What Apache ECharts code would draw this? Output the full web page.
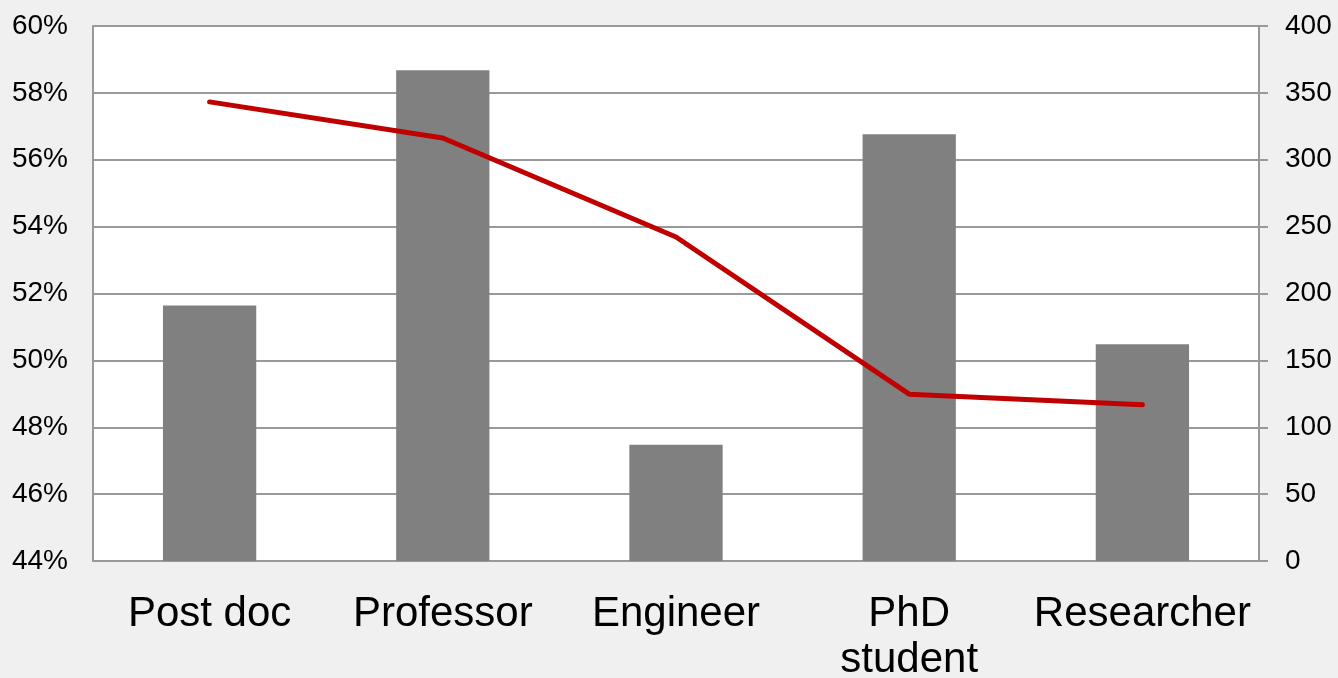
<!DOCTYPE html>
<html>
<head>
<meta charset="utf-8">
<script src="https://cdn.jsdelivr.net/npm/echarts@6/dist/echarts.min.js"></script>
<style>
html,body{margin:0;padding:0;background:#f0f0f0;overflow:hidden;}
#chart{width:1338px;height:678px;}
</style>
</head>
<body>
<div id="chart"></div>
<script>
const categories = ['Post doc', 'Professor', 'Engineer', 'PhD\nstudent', 'Researcher'];
const barValues = [191, 367, 87, 319, 162];
const lineValues = [57.73, 56.65, 53.69, 48.99, 48.67];
const leftTicks = {min: 44, max: 60, interval: 2};
const rightTicks = {min: 0, max: 400, interval: 50};

const chart = echarts.init(document.getElementById('chart'));
chart.setOption({
  backgroundColor: '#f0f0f0',
  animation: false,
  grid: {left: 93, right: 79, top: 26, bottom: 117, show: true, backgroundColor: '#ffffff', borderWidth: 0, containLabel: false, outerBoundsMode: 'none'},
  xAxis: {
    type: 'category',
    data: categories,
    axisLine: {lineStyle: {color: '#999999', width: 2}},
    axisTick: {show: false},
    axisLabel: {color: '#000', fontFamily: 'Liberation Sans, Arial, sans-serif', fontSize: 42, lineHeight: 46, margin: 30, interval: 0}
  },
  yAxis: [
    {
      type: 'value', position: 'left',
      min: leftTicks.min, max: leftTicks.max, interval: leftTicks.interval,
      axisLine: {show: true, lineStyle: {color: '#999999', width: 2}},
      axisTick: {show: false},
      splitLine: {lineStyle: {color: '#999999', width: 2}},
      axisLabel: {formatter: '{value}%', color: '#000', fontFamily: 'Liberation Sans, Arial, sans-serif', fontSize: 28, margin: 25}
    },
    {
      type: 'value', position: 'right',
      min: rightTicks.min, max: rightTicks.max, interval: rightTicks.interval,
      axisLine: {show: true, lineStyle: {color: '#999999', width: 2}},
      axisTick: {show: true, length: 9, lineStyle: {color: '#999999', width: 2}},
      splitLine: {show: false},
      axisLabel: {color: '#000', fontFamily: 'Liberation Sans, Arial, sans-serif', fontSize: 28, margin: 26}
    }
  ],
  series: [
    {
      type: 'bar', yAxisIndex: 1, data: barValues,
      barWidth: '40%',
      itemStyle: {color: '#808080'}
    },
    {
      type: 'line', yAxisIndex: 0, data: lineValues,
      symbol: 'none',
      lineStyle: {color: '#c00000', width: 5, cap: 'round'},
      z: 5
    }
  ]
});
</script>
</body>
</html>
